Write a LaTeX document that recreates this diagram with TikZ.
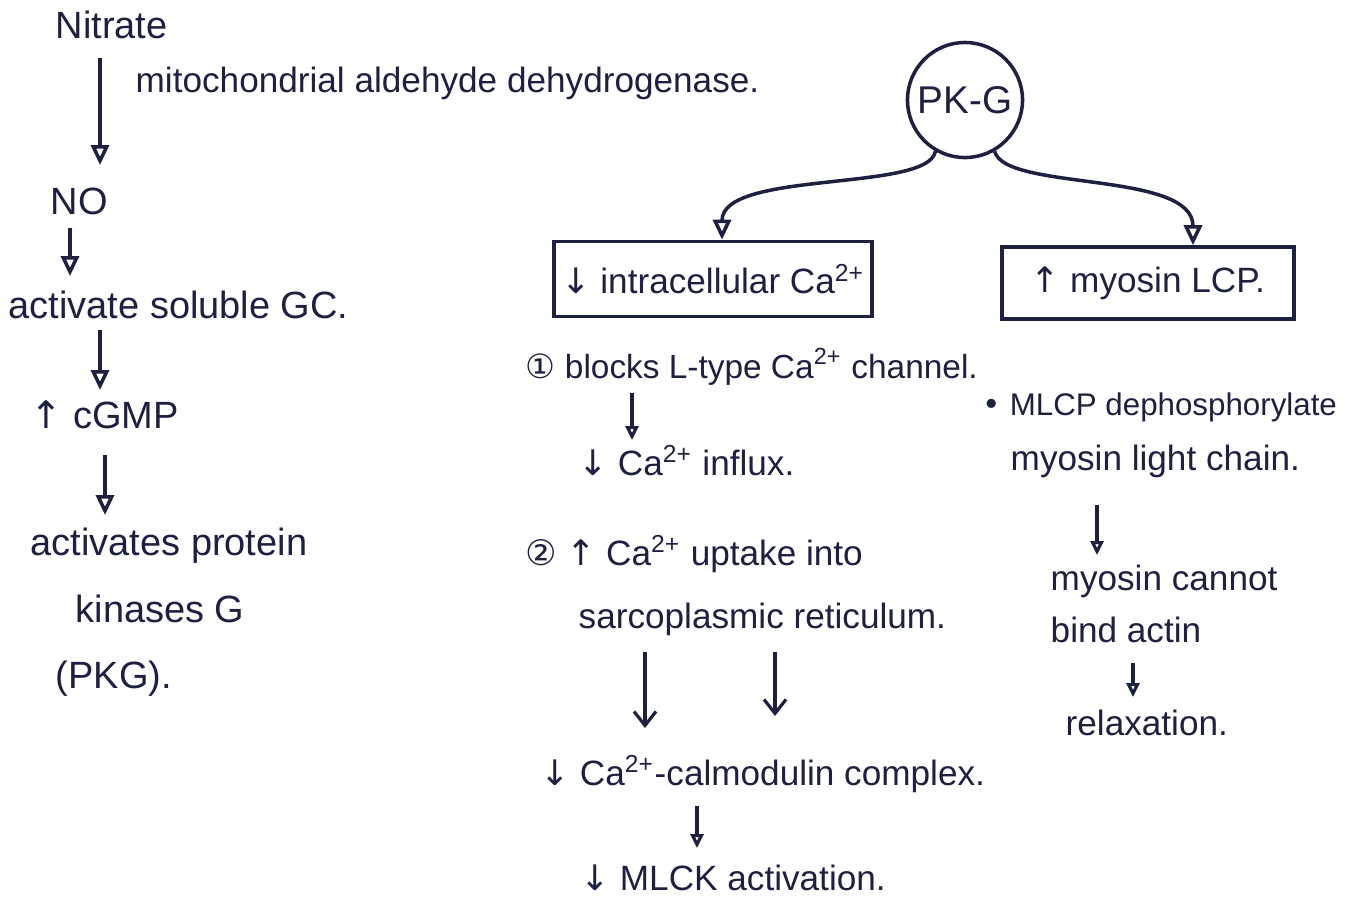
\documentclass[tikz,border=0pt]{standalone}
\usepackage{fontspec}
\setmainfont{Liberation Sans}
\newfontfamily\simbolos{DejaVu Sans}
\usetikzlibrary{arrows.meta,calc,positioning}
\definecolor{tinta}{HTML}{1E2040}
\newcommand{\sube}{{\simbolos ↑}}
\newcommand{\baja}{{\simbolos ↓}}
\newcommand{\cados}{Ca\textsuperscript{2+}}
\tikzset{
  texto/.style={font=\fontsize{10}{12}\selectfont,text=tinta,inner sep=0pt,anchor=base west},
  chico/.style={font=\fontsize{9.5}{11}\selectfont},
  mini/.style={font=\fontsize{8.9}{11}\selectfont},
  grande/.style={font=\fontsize{10.8}{13}\selectfont},
  caja/.style={draw=tinta,line width=1pt,inner sep=2pt,font=\fontsize{10}{12}\selectfont,text=tinta},
  circulo/.style={circle,draw=tinta,line width=1pt,minimum size=1.15cm,inner sep=0pt,font=\fontsize{11}{13}\selectfont,text=tinta},
  flecha/.style={draw=tinta,line width=1pt,-{Triangle[open,length=2mm,width=1.8mm]}},
  flechita/.style={draw=tinta,line width=0.9pt,-{Triangle[open,length=1.4mm,width=1.3mm]}},
  flechav/.style={draw=tinta,line width=0.9pt,-{Straight Barb[length=1.4mm,width=2.2mm]}},
}
\begin{document}
\begin{tikzpicture}[x=0.01cm,y=-0.01cm]
\useasboundingbox (0,0) rectangle (1357,899);
\node[texto,grande] (nitrato) at (55,38) {Nitrate};
\node[texto] (enzima) at (135,92) {mitochondrial aldehyde dehydrogenase.};
\node[texto,grande] (no) at (50,214) {NO};
\node[texto,grande] (soluble) at (8,318) {activate soluble GC.};
\node[texto,grande] (cgmp) at (30,428) {\sube{} cGMP};
\node[texto,grande] (activa) at (30,555) {activates protein};
\node[texto,grande] (kinasa) at (75,622) {kinases G};
\node[texto,grande] (pkgtxt) at (55,688) {(PKG).};
\node[circulo] (pkg) at (965,100) {PK-G};
\node[caja,minimum width=3.05cm,minimum height=0.75cm] (caja1) at (713,279) {\baja{} intracellular \cados};
\node[caja,minimum width=2.92cm,minimum height=0.72cm] (caja2) at (1148,283) {\sube{} myosin LCP.};
\node[texto,chico] (bloquea) at (525,378) {{\simbolos ①} blocks L-type \cados{} channel.};
\node[texto] (influjo) at (578,475) {\baja{} \cados{} influx.};
\node[texto] (captura) at (525,565) {{\simbolos ②} \sube{} \cados{} uptake into};
\node[texto] (sarco) at (578,628) {sarcoplasmic reticulum.};
\node[texto] (complejo) at (540,785) {\baja{} \cados{}-calmodulin complex.};
\node[texto] (mlck) at (580,890) {\baja{} MLCK activation.};
\node[texto,mini] (mlcp) at (982,415) {{\simbolos •} MLCP dephosphorylate};
\node[texto] (cadena) at (1010,470) {myosin light chain.};
\node[texto] (nopuede) at (1050,590) {myosin cannot};
\node[texto] (actina) at (1050,642) {bind actin};
\node[texto] (relaja) at (1065,735) {relaxation.};
\draw[flecha] ($(nitrato.base west)+(45,20)$) -- ($(no.base west)+(50,-49)$);
\draw[flecha] ($(no.base west)+(20,14)$) -- ($(soluble.base west)+(62,-42)$);
\draw[flecha] ($(soluble.base west)+(92,12)$) -- ($(cgmp.base west)+(70,-38)$);
\draw[flecha] ($(cgmp.base west)+(75,27)$) -- ($(activa.base west)+(75,-40)$);
\draw[flecha] (pkg.-120) .. controls +(-7,41) and +(0,-70) .. ($(caja1.north)+(9,0)$);
\draw[flecha] (pkg.-60) .. controls +(10,40) and +(0,-75) .. ($(caja2.north)+(45,0)$);
\draw[flechita] ($(bloquea.base west)+(107,15)$) -- ($(influjo.base west)+(54,-35)$);
\draw[flechav] ($(sarco.base west)+(67,24)$) -- ($(complejo.base west)+(105,-57)$);
\draw[flechav] ($(sarco.base west)+(197,24)$) -- ($(complejo.base west)+(235,-69)$);
\draw[flechita] ($(complejo.base west)+(157,21)$) -- ($(mlck.base west)+(117,-42)$);
\draw[flechita] ($(cadena.base west)+(87,35)$) -- ($(nopuede.base west)+(47,-35)$);
\draw[flechita] ($(actina.base west)+(83,21)$) -- ($(relaja.base west)+(68,-38)$);
\end{tikzpicture}
\end{document}
